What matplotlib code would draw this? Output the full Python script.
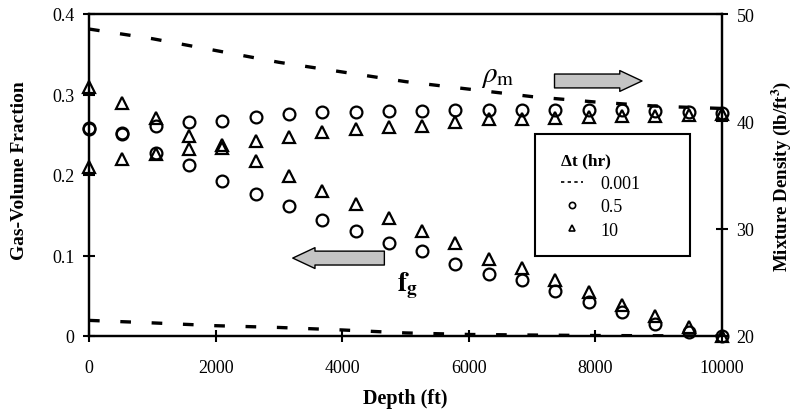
import matplotlib
matplotlib.use("Agg")
import matplotlib.pyplot as plt
from matplotlib.lines import Line2D
from matplotlib.patches import Rectangle, FancyArrowPatch

plt.rcParams['font.family'] = ['Liberation Serif', 'DejaVu Serif']
plt.rcParams['mathtext.fontset'] = 'stix'

# ---------------- data ----------------
depth = [0, 526, 1053, 1579, 2105, 2632, 3158, 3684, 4211, 4737,
         5263, 5789, 6316, 6842, 7368, 7895, 8421, 8947, 9474, 10000]

# gas volume fraction (left axis)
fg_05 = [0.259, 0.2525, 0.2275, 0.2125, 0.1925, 0.176, 0.161, 0.144, 0.131, 0.116,
         0.105, 0.090, 0.0775, 0.069, 0.056, 0.0425, 0.030, 0.015, 0.005, 0.0]
fg_10 = [0.309, 0.290, 0.271, 0.249, 0.234, 0.218, 0.199, 0.180, 0.164, 0.146,
         0.131, 0.115, 0.096, 0.084, 0.069, 0.055, 0.039, 0.025, 0.011, 0.0]

# mixture density (right axis, lb/ft^3)
rho_05 = [39.3, 38.8, 39.6, 39.9, 40.0, 40.4, 40.7, 40.9, 40.9, 41.0,
          41.0, 41.1, 41.1, 41.1, 41.1, 41.05, 41.05, 41.0, 40.9, 40.8]
rho_10 = [35.75, 36.5, 36.95, 37.4, 37.8, 38.2, 38.5, 39.0, 39.3, 39.5,
          39.6, 39.9, 40.2, 40.2, 40.3, 40.4, 40.5, 40.5, 40.6, 40.7]

# dt = 0.001 hr curves
depth_line = [0, 1000, 2000, 3000, 4000, 5000, 6000, 7000, 8000, 9000, 10000]
fg_0001 = [0.0194, 0.0163, 0.0128, 0.0106, 0.0075, 0.0038, 0.0019, 0.0012, 0.0006, 0.0003, 0.0]
rho_0001 = [48.6, 47.7, 46.6, 45.5, 44.6, 43.7, 43.0, 42.3, 41.8, 41.4, 41.2]

legend_labels = ['0.001', '0.5', '10']
legend_title = 'Δt (hr)'
x_ticks = [0, 2000, 4000, 6000, 8000, 10000]
y_ticks = [0, 0.1, 0.2, 0.3, 0.4]
y2_ticks = [20, 30, 40, 50]

# ---------------- figure ----------------
fig = plt.figure(figsize=(7.93, 4.14), dpi=100)
ax = fig.add_axes([89/793, 1-337/414, (722-89)/793, (337-15)/414])
ax2 = ax.twinx()

dash_kw = dict(color='black', lw=2.4, dashes=(3.2, 6.2), dash_capstyle='butt')
mk_kw = dict(ls='none', mfc='none', mec='black', mew=1.6, ms=8.5, clip_on=False)

ax.plot(depth_line, fg_0001, **dash_kw)
ax.plot(depth, fg_05, marker='o', **mk_kw)
ax.plot(depth, fg_10, marker='^', **mk_kw)

ax2.plot(depth_line, rho_0001, **dash_kw)
ax2.plot(depth, rho_05, marker='o', **mk_kw)
ax2.plot(depth, rho_10, marker='^', **mk_kw)

ax.set_xlim(0, 10000)
ax.set_ylim(0, 0.4)
ax2.set_ylim(20, 50)

ax.set_xticks(x_ticks)
ax.set_xticklabels([str(v) for v in x_ticks])
ax.set_yticks(y_ticks)
ax.set_yticklabels(['0', '0.1', '0.2', '0.3', '0.4'])
ax2.set_yticks(y2_ticks)
ax2.set_yticklabels([str(v) for v in y2_ticks])

for a in (ax, ax2):
    a.tick_params(direction='inout', length=9, width=1.5, labelsize=13, colors='black')
    for s in a.spines.values():
        s.set_linewidth(1.6)
ax.tick_params(axis='x', pad=12)
ax.tick_params(axis='y', pad=6)
ax2.tick_params(axis='y', pad=6)

ax.set_xlabel('Depth (ft)', fontsize=14.5, fontweight='bold', labelpad=9)
fig.text(20/793, 1-171/414, 'Gas-Volume Fraction', fontsize=14, fontweight='bold',
         rotation=90, ha='center', va='center')
fig.text(781/793, 1-176/414, 'Mixture Density (lb/ft$^\\mathbf{3}$)', fontsize=13.6,
         fontweight='bold', rotation=90, ha='center', va='center')

# annotations
ax2.add_patch(FancyArrowPatch((0.731, 0.792), (0.878, 0.792), transform=ax.transAxes,
              arrowstyle='simple,head_length=1.6,head_width=1.5,tail_width=1.0',
              mutation_scale=10, fc='#c4c4c4', ec='black', lw=1.0))
ax2.add_patch(FancyArrowPatch((0.471, 0.242), (0.3175, 0.242), transform=ax.transAxes,
              arrowstyle='simple,head_length=1.6,head_width=1.5,tail_width=1.0',
              mutation_scale=10, fc='#c4c4c4', ec='black', lw=1.0))
ax2.text(0.620, 0.807, r'$\rho_{\mathrm{m}}$', transform=ax.transAxes, fontsize=21,
         ha='left', va='center')
ax2.text(0.4866, 0.158, r'$\mathbf{f_g}$', transform=ax.transAxes, fontsize=20,
         ha='left', va='center')

# legend
ax2.add_patch(Rectangle((0.7046, 0.248), 0.2446, 0.379, transform=ax.transAxes,
              fill=True, fc='white', ec='black', lw=1.5, zorder=5))
handles = [Line2D([], [], color='black', lw=1.2, ls=(0, (2, 2))),
           Line2D([], [], ls='none', marker='o', mfc='none', mec='black', ms=4.5, mew=1.2),
           Line2D([], [], ls='none', marker='^', mfc='none', mec='black', ms=5, mew=1.2)]
leg = ax2.legend(handles, legend_labels, title=legend_title, loc='upper left',
                 bbox_to_anchor=(0.72, 0.62), bbox_transform=ax.transAxes,
                 frameon=False, fontsize=13, handlelength=1.2, handletextpad=1.0,
                 labelspacing=0.35, alignment='left')
leg.get_title().set_fontweight('bold')
leg.get_title().set_fontsize(12.5)
leg.set_zorder(6)

fig.savefig('out.png', dpi=100)
